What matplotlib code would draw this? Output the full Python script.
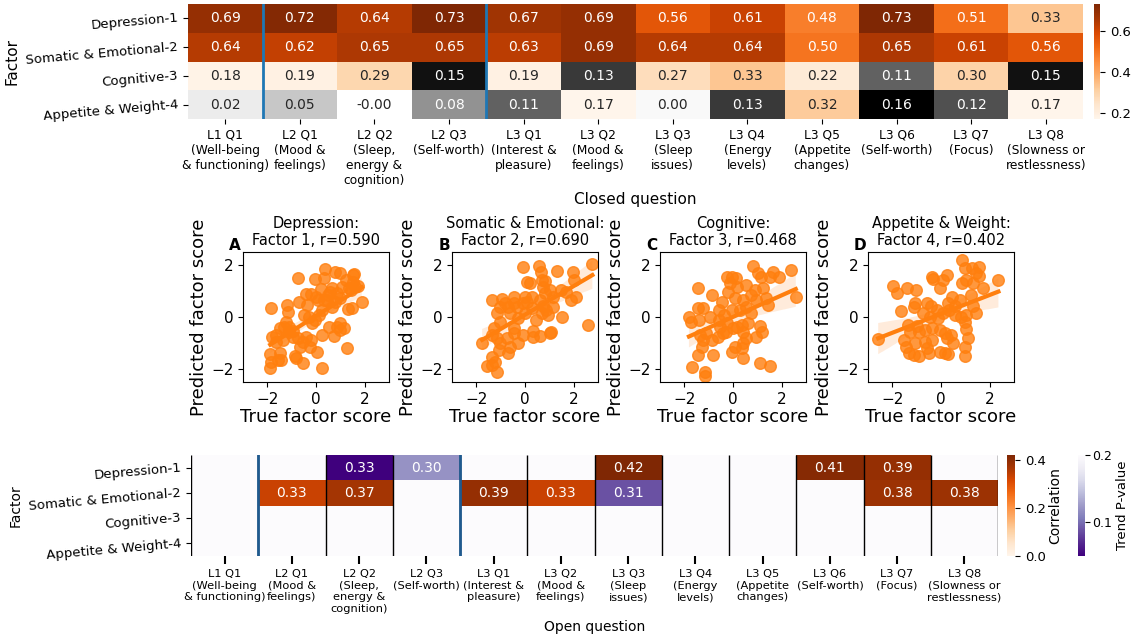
import numpy as np
import matplotlib
matplotlib.use('Agg')
import matplotlib.pyplot as plt
import seaborn as sns

# --- data ---
factors = ['Depression-1', 'Somatic & Emotional-2', 'Cognitive-3', 'Appetite & Weight-4']
questions = ['L1 Q1\n(Well-being\n& functioning)', 'L2 Q1\n(Mood &\nfeelings)',
             'L2 Q2\n(Sleep,\nenergy &\ncognition)', 'L2 Q3\n(Self-worth)',
             'L3 Q1\n(Interest &\npleasure)', 'L3 Q2\n(Mood &\nfeelings)',
             'L3 Q3\n(Sleep\nissues)', 'L3 Q4\n(Energy\nlevels)',
             'L3 Q5\n(Appetite\nchanges)', 'L3 Q6\n(Self-worth)',
             'L3 Q7\n(Focus)', 'L3 Q8\n(Slowness or\nrestlessness)']

# closed questions: correlation with each factor
closed_r = [
    [0.69, 0.72, 0.64, 0.73, 0.67, 0.69, 0.56, 0.61, 0.48, 0.73, 0.51, 0.33],
    [0.64, 0.62, 0.65, 0.65, 0.63, 0.69, 0.64, 0.64, 0.50, 0.65, 0.61, 0.56],
    [0.18, 0.19, 0.29, 0.15, 0.19, 0.13, 0.27, 0.33, 0.22, 0.11, 0.30, 0.15],
    [0.02, 0.05, -0.004, 0.08, 0.11, 0.17, 0.004, 0.13, 0.32, 0.16, 0.12, 0.17],
]
# 1 = significant (orange), 0 = not significant (grey)
closed_sig = [
    [1, 1, 1, 1, 1, 1, 1, 1, 1, 1, 1, 1],
    [1, 1, 1, 1, 1, 1, 1, 1, 1, 1, 1, 1],
    [1, 1, 1, 0, 1, 0, 1, 1, 1, 0, 1, 0],
    [0, 0, 0, 0, 0, 1, 0, 0, 1, 0, 0, 1],
]

nan = np.nan
# open questions: significant correlations
open_r = [
    [nan, nan, nan, nan, nan, nan, 0.42, nan, nan, 0.41, 0.39, nan],
    [nan, 0.33, 0.37, nan, 0.39, 0.33, nan, nan, nan, nan, 0.38, 0.38],
    [nan] * 12,
    [nan] * 12,
]
# open questions: trend-level correlations and their p-values
open_trend_r = [
    [nan, nan, 0.33, 0.30, nan, nan, nan, nan, nan, nan, nan, nan],
    [nan, nan, nan, nan, nan, nan, 0.31, nan, nan, nan, nan, nan],
    [nan] * 12,
    [nan] * 12,
]
open_trend_p = [
    [nan, nan, 0.05, 0.12, nan, nan, nan, nan, nan, nan, nan, nan],
    [nan, nan, nan, nan, nan, nan, 0.088, nan, nan, nan, nan, nan],
    [nan] * 12,
    [nan] * 12,
]

panel_titles = ['Depression:\nFactor 1, r=0.590', 'Somatic & Emotional:\nFactor 2, r=0.690',
                'Cognitive:\nFactor 3, r=0.468', 'Appetite & Weight:\nFactor 4, r=0.402']
panel_letters = ['A', 'B', 'C', 'D']

true_a = [-1.84, -0.72, -0.04, 0.36, 0.32, 0.80, 0.97, 1.50, 1.57, 1.54,
          1.23, 1.07, 0.66, 0.59, 0.19, -0.42, -0.22, -0.01, 0.09, 0.32,
          0.50, 0.86, 1.00, 1.34, 1.45, 1.61, 1.74, 1.88, 1.47, 1.31,
          0.80, 0.64, 0.46, -0.69, -0.35, -1.20, -1.16, -1.23, -1.30, -1.50,
          -1.09, -0.96, -0.76, -0.49, -0.28, -0.15, -0.04, 0.12, 0.26, -0.42,
          -0.22, -0.55, -0.65, -0.26, 0.05, 0.23, 0.53, 0.73, 0.86, 1.00,
          1.14, 1.27, 1.00, -1.80, -1.66, -1.88, -1.47, -1.57, -1.43, -1.84,
          -1.88, -0.82, -0.55, -0.85, 0.26, -1.09, -0.93, -1.36, -1.64]
pred_a = [0.33, 1.51, 1.45, 1.83, 1.49, 1.74, 1.71, 1.62, 1.65, 1.36,
          1.42, 1.14, 1.10, 0.97, 1.06, 0.88, 0.87, 0.78, 0.65, 0.65,
          0.85, 0.91, 0.72, 1.10, 1.04, 1.14, 1.19, 0.59, 0.33, 0.31,
          0.59, 0.40, 0.65, 0.59, 0.46, 0.46, 0.21, -0.18, -0.37, -0.44,
          -0.56, -0.76, -0.82, 0.08, 0.01, -0.24, -0.12, 0.08, 0.27, -0.76,
          -0.88, -0.95, -1.14, -1.14, -1.33, -0.69, -0.37, -0.73, -0.37, -0.24,
          -0.44, -1.21, -0.50, -0.76, -0.95, -1.42, -1.40, -1.65, -1.65, -1.74,
          -1.97, -1.59, -1.78, -1.50, -1.97, -0.37, -0.53, -0.88, -0.69]

true_b = [-0.07, 0.58, 0.64, 1.31, 1.96, 2.77, 0.68, 0.81, 0.07, 0.20,
          0.74, 1.01, 1.49, 1.69, 2.03, 2.09, 1.89, 0.27, 0.00, -0.47,
          -0.95, -1.35, -1.01, -0.68, -0.34, -1.15, -0.61, -0.27, 0.00, 0.27,
          0.61, 0.88, 1.15, 0.47, 0.68, 0.95, 1.53, 2.57, 1.01, 0.61,
          0.34, -0.47, -0.47, -1.01, -1.28, -1.76, -1.35, -1.15, -1.01, -0.74,
          -0.61, -0.68, -1.08, -1.35, -1.22, -1.56, -1.35, -1.15, -0.27, -0.07,
          0.34, 1.08, -0.47, -0.81, 0.07, -0.07, 1.15, 0.74, 0.81]
pred_b = [1.94, 1.97, 1.74, 1.78, 1.74, 2.04, 1.42, 1.40, 1.36, 1.29,
          1.14, 1.04, 1.04, 0.97, 1.42, 0.78, 0.65, 0.78, 0.78, 0.78,
          0.68, 0.65, 0.40, 0.40, 0.40, 0.14, 0.14, -0.05, 0.14, 0.33,
          0.65, 0.27, 0.40, -0.12, 0.14, 0.08, 0.01, -0.31, -0.63, -0.73,
          -0.54, -0.44, -0.63, -0.18, -0.44, -0.99, -0.69, -0.82, -1.01, -0.82,
          -1.14, -1.40, -1.27, -1.53, -1.72, -1.87, -1.85, -2.10, -1.01, -0.69,
          -0.76, -0.56, 0.53, 0.53, 0.59, 0.53, 0.78, 0.42, 0.91]

true_c = [0.82, -0.26, -0.05, 0.12, -0.12, 1.03, 1.16, 1.64, 1.91, 2.38,
          1.53, 2.58, -1.43, -0.85, -1.81, -1.74, -1.43, -1.23, -1.41, -0.93,
          -0.59, -0.46, -0.19, 0.08, 0.18, 0.55, 0.42, 0.76, 0.90, 1.23,
          1.37, 1.43, 0.96, 0.55, 0.28, -0.05, -0.39, -0.59, -0.26, 0.15,
          0.35, 0.01, 0.42, 0.55, 0.42, 0.35, 0.08, -0.05, 0.42, 0.96,
          1.09, 1.20, 1.12, 1.53, -0.42, -0.62, -0.85, -1.09, -1.23, -1.36,
          -1.29, -1.43, -0.82, -1.68, -1.16, -1.16, -0.55, -0.28, 0.62, 0.76]
pred_c = [1.97, 1.55, 1.53, 1.49, 1.29, 1.68, 1.53, 1.74, 1.53, 1.81,
          1.55, 0.76, 1.10, 0.85, -0.01, -0.18, 0.33, 0.33, -0.12, 0.01,
          0.27, 0.59, 0.97, 0.72, 1.17, 1.23, 0.65, 0.85, 1.04, 1.10,
          0.72, 0.46, 0.65, 0.40, 0.27, 0.27, 0.08, -0.12, -0.24, -0.37,
          -0.31, -0.44, -0.56, -0.82, -1.01, -1.21, -1.14, -1.33, -1.59, -0.76,
          -0.35, -0.56, -1.76, -1.88, -0.63, -0.76, -0.88, -0.63, -0.88, -0.69,
          -1.14, -1.46, -1.46, -1.91, -2.10, -2.27, -0.37, -0.56, -0.24, 0.14]

true_d = [-2.58, -1.96, -1.80, -1.39, -1.01, -1.66, -1.05, -1.12, -0.58, -0.42,
          -0.18, -0.38, -0.34, 0.07, 0.23, -0.04, 0.47, 0.30, 0.57, 0.77,
          0.88, 0.97, 0.88, 1.04, 1.31, 1.27, 1.58, 1.45, 1.55, 1.72,
          2.36, 1.24, 1.31, 1.42, 1.04, 0.84, 0.97, 1.04, 1.11, 0.97,
          0.97, 0.57, 0.34, 0.09, -0.11, -0.45, -0.72, -0.99, -1.36, -1.26,
          -1.53, -1.42, -1.32, -1.12, -0.92, -1.05, -0.65, -0.58, -0.51, -0.65,
          -0.38, -0.04, 0.16, -0.04, 0.16, 0.30, 0.43, 0.50, 0.23, -0.92,
          -0.38]
pred_d = [-0.86, 1.19, 0.91, 1.10, 1.04, 0.24, 0.53, 0.40, 0.53, 0.42,
          0.27, 1.53, 1.45, 1.42, 1.62, 1.10, 0.78, 0.55, 0.42, 0.65,
          2.19, 1.87, 1.32, 1.42, 1.29, 1.87, 1.94, 1.68, 1.58, 1.10,
          1.42, 0.85, 0.42, 0.14, 0.08, 0.01, -0.18, -0.47, -0.82, -1.14,
          -1.50, 0.08, 0.27, 0.14, -0.05, 0.01, 0.14, -0.35, -0.31, -0.56,
          -0.88, -1.14, -1.40, -1.46, -1.50, -1.01, -0.95, -1.21, -1.40, -0.50,
          -0.44, -0.50, -0.63, -1.33, -1.40, -1.42, -0.69, -1.01, -0.82, -0.56,
          -0.88]

true_scores = [true_a, true_b, true_c, true_d]
pred_scores = [pred_a, pred_b, pred_c, pred_d]

# --- figure layout (pixel boxes converted to figure fractions) ---
W, H = 1131, 640


def box(x0, y0, x1, y1):
    return [x0 / W, 1 - y1 / H, (x1 - x0) / W, (y1 - y0) / H]


fig = plt.figure(figsize=(W / 100, H / 100), dpi=100)

ANNOT = {'size': 10}

# ---------------- top heatmap: closed questions ----------------
ax_top = fig.add_axes(box(188, 4, 1083, 119))
cax_top = fig.add_axes(box(1094, 4, 1100, 119))

r_closed = np.array(closed_r)
sig = np.array(closed_sig, dtype=bool)

sns.heatmap(r_closed, mask=sig, cmap='Greys', annot=True, fmt='.2f',
            annot_kws=ANNOT, cbar=False, ax=ax_top)
sns.heatmap(r_closed, mask=~sig, cmap='Oranges', annot=True, fmt='.2f',
            annot_kws=ANNOT, cbar_ax=cax_top, ax=ax_top)
cax_top.tick_params(labelsize=9.5)

for x in [1, 4]:
    ax_top.axvline(x, color='tab:blue', lw=2)

ax_top.set_xticklabels(questions, rotation=0, fontsize=8.8)
ax_top.set_yticklabels(factors, rotation=5, fontsize=9.5, ha='right',
                       va='center', rotation_mode='anchor')
ax_top.set_xlabel('Closed question', fontsize=11)
ax_top.set_ylabel('Factor', fontsize=11)

# ---------------- scatter panels ----------------
scatter_left = [243, 452, 660, 868]
for i in range(4):
    x0 = scatter_left[i]
    ax = fig.add_axes(box(x0, 252, x0 + 146, 382))
    sns.regplot(x=true_scores[i], y=pred_scores[i], ax=ax, color='C1',
                scatter_kws={'s': 70, 'alpha': 0.8}, line_kws={'lw': 3}, seed=0)
    ax.set_xlim(-3, 3)
    ax.set_ylim(-2.5, 2.5)
    ax.set_xticks([-2, 0, 2])
    ax.set_yticks([-2, 0, 2])
    ax.tick_params(labelsize=11)
    ax.set_xlabel('True factor score', fontsize=13, labelpad=1)
    ax.set_ylabel('Predicted factor score', fontsize=13, labelpad=2)
    ax.set_title(panel_titles[i], fontsize=10.5, pad=5)
    ax.text(-0.055, 1.05, panel_letters[i], transform=ax.transAxes,
            fontsize=11, fontweight='bold', ha='center', va='center')

# ---------------- bottom heatmap: open questions ----------------
ax_bot = fig.add_axes(box(191, 455, 998, 556))
cax_r = fig.add_axes(box(1007, 455, 1015, 556))
cax_p = fig.add_axes(box(1078, 455, 1085, 556))

p_trend = np.array(open_trend_p)
p_full = np.where(np.isnan(p_trend), 1.0, p_trend)
r_trend = np.array(open_trend_r)
trend_labels = np.where(np.isnan(r_trend), '',
                        np.char.mod('%.2f', np.nan_to_num(r_trend)))

sns.heatmap(p_full, cmap='Purples_r', vmin=0.05, vmax=0.2, annot=trend_labels,
            fmt='', annot_kws=ANNOT, cbar_ax=cax_p, ax=ax_bot)
r_open = np.array(open_r)
sns.heatmap(r_open, mask=np.isnan(r_open), cmap='Oranges', vmin=0,
            annot=True, fmt='.2f', annot_kws=ANNOT, cbar_ax=cax_r, ax=ax_bot)

ax_bot.vlines(range(len(questions) + 1), 0, len(factors), colors='k', lw=1)
for x in [1, 4]:
    ax_bot.axvline(x, color='#1f5a8f', lw=2)

cax_r.set_yticks([0.0, 0.2, 0.4])
cax_r.tick_params(labelsize=9.5)
cax_r.set_ylabel('Correlation', fontsize=10, labelpad=2)
cax_p.set_yticks([0.1, 0.2])
cax_p.tick_params(labelsize=9, pad=1.5)
cax_p.set_ylabel('Trend P-value', fontsize=9.5, labelpad=3)

ax_bot.set_xticklabels(questions, rotation=0, fontsize=8.2)
ax_bot.set_yticklabels(factors, rotation=5, fontsize=9.5, ha='right',
                       va='center', rotation_mode='anchor')
ax_bot.tick_params(axis='x', length=6, width=1.5)
ax_bot.set_xlabel('Open question', fontsize=10)
ax_bot.set_ylabel('Factor', fontsize=10)

plt.savefig('out.png', dpi=100)
